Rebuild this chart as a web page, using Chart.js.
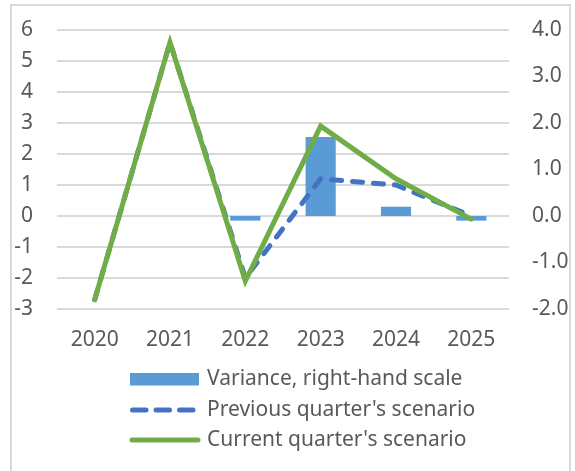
<!DOCTYPE html>
<html>
<head>
<meta charset="utf-8">
<script src="https://cdn.jsdelivr.net/npm/chart.js@4.4.1/dist/chart.umd.min.js"></script>
<style>
  html, body { margin: 0; padding: 0; background: #ffffff; }
  #wrap { position: relative; width: 575px; height: 471px; overflow: hidden; }
  #frame { position: absolute; left: 10px; top: 4px; width: 561px; height: 480px; border: 2px solid #d9d9d9; box-sizing: border-box; }
  canvas { position: absolute; left: 0; top: 0; }
</style>
</head>
<body>
<div id="wrap">
  <div id="frame"></div>
  <canvas id="c" width="575" height="471"></canvas>
</div>
<script>
// ---- data ----
const years = ['2020', '2021', '2022', '2023', '2024', '2025'];
const variance = [null, null, -0.1, 1.7, 0.2, -0.1];          // right-hand scale
const previousScenario = [-2.7, 5.6, -2.0, 1.2, 1.0, 0.0];
const currentScenario = [-2.7, 5.6, -2.1, 2.9, 1.2, -0.1];
const seriesNames = ["Variance, right-hand scale", "Previous quarter's scenario", "Current quarter's scenario"];
const leftTicks = { min: -3, max: 6, step: 1 };
const rightTicks = { min: -2, max: 4, step: 1 };

const FONT = "'Noto Sans', 'Open Sans', sans-serif";
const TEXT = '#595959';

const legendPlugin = {
  id: 'stackedLegend',
  afterDraw(chart) {
    const ctx = chart.ctx;
    const ds = chart.data.datasets;
    const rows = [379, 410, 440];
    const x0 = 130, x1 = 199, tx = 207;
    ctx.save();
    ds.forEach((d, i) => {
      const y = rows[i];
      if (d.type === 'bar') {
        ctx.fillStyle = d.backgroundColor;
        ctx.fillRect(x0, y - 6, x1 - x0, 12.5);
      } else {
        ctx.strokeStyle = d.borderColor;
        ctx.lineWidth = d.borderWidth;
        ctx.lineCap = 'round';
        if (d.borderDash && d.borderDash.length) {
          const segs = [[132.5, 146], [156, 169.5], [179.5, 193]];
          segs.forEach(s => {
            ctx.beginPath(); ctx.moveTo(s[0], y); ctx.lineTo(s[1], y); ctx.stroke();
          });
        } else {
          ctx.beginPath(); ctx.moveTo(x0 + 2, y); ctx.lineTo(x1 - 1, y); ctx.stroke();
        }
      }
      ctx.fillStyle = TEXT;
      ctx.font = '21px ' + FONT;
      ctx.textBaseline = 'middle';
      ctx.textAlign = 'left';
      ctx.fillText(d.label, tx, y);
    });
    ctx.restore();
  }
};

const fixV = (w) => (s) => { s.width = w; s.paddingTop = 0; s.paddingBottom = 0; };

const chart = new Chart(document.getElementById('c'), {
  data: {
    labels: years,
    datasets: [
      {
        type: 'bar', label: seriesNames[0], data: variance, yAxisID: 'y1',
        backgroundColor: '#5B9BD5', barPercentage: 0.4, categoryPercentage: 1.0, order: 2
      },
      {
        type: 'line', label: seriesNames[1], data: previousScenario, yAxisID: 'y',
        borderColor: '#4472C4', borderWidth: 5, borderDash: [10, 11], borderCapStyle: 'round',
        pointRadius: 0, fill: false, tension: 0, order: 1
      },
      {
        type: 'line', label: seriesNames[2], data: currentScenario, yAxisID: 'y',
        borderColor: '#70AD47', borderWidth: 5, borderCapStyle: 'round', borderJoinStyle: 'miter',
        pointRadius: 0, fill: false, tension: 0, order: 0
      }
    ]
  },
  options: {
    responsive: false,
    animation: false,
    devicePixelRatio: 1,
    layout: { padding: { top: 30, bottom: 118, left: 0, right: 0 } },
    plugins: { legend: { display: false }, tooltip: { enabled: false } },
    scales: {
      x: {
        offset: true,
        grid: { display: false, drawTicks: false },
        border: { display: false },
        ticks: { color: TEXT, font: { family: FONT, size: 21 }, padding: 18, maxRotation: 0 },
        afterFit: s => { s.height = 44; }
      },
      y: {
        position: 'left',
        min: leftTicks.min, max: leftTicks.max,
        ticks: { stepSize: leftTicks.step, color: TEXT, font: { family: FONT, size: 21 }, padding: 24 },
        grid: { color: '#d9d9d9', lineWidth: 2, drawTicks: false },
        border: { display: false },
        afterFit: fixV(57)
      },
      y1: {
        position: 'right',
        min: rightTicks.min, max: rightTicks.max,
        ticks: { stepSize: rightTicks.step, color: TEXT, font: { family: FONT, size: 21 }, padding: 23,
                 callback: v => Number(v).toFixed(1) },
        grid: { display: false, drawTicks: false },
        border: { display: false },
        afterFit: fixV(66)
      }
    }
  },
  plugins: [legendPlugin]
});
</script>
</body>
</html>
